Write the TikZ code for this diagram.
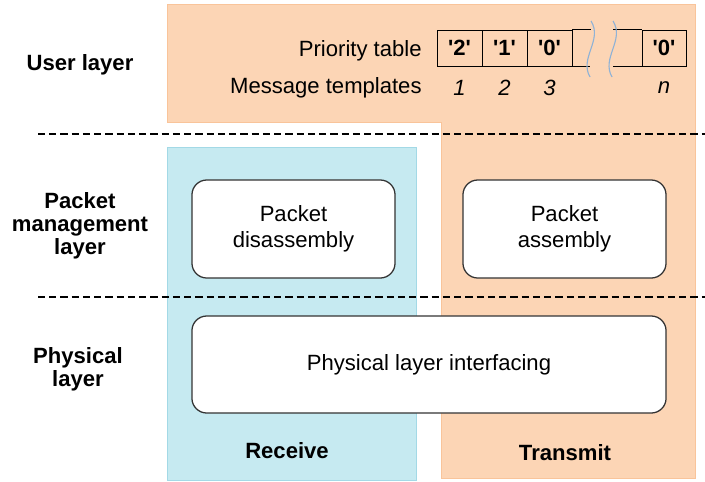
\documentclass[tikz,border=0pt]{standalone}
\usepackage{fontspec}
\setmainfont{Liberation Sans}
\usetikzlibrary{positioning}
\definecolor{txfill}{HTML}{FCD5B5}
\definecolor{txline}{HTML}{F9C49A}
\definecolor{rxfill}{HTML}{C6EAF1}
\definecolor{rxline}{HTML}{A3D9E6}
\definecolor{wavecol}{HTML}{8FB2D6}
\begin{document}
\begin{tikzpicture}[
    x=0.025cm, y=-0.025cm,
    every node/.style={font=\fontsize{15.7}{18.5}\selectfont},
    layer/.style={font=\fontsize{15.7}{16.5}\selectfont\bfseries, align=center},
    block/.style={rectangle, draw=black!80, line width=0.9pt, fill=white, rounded corners=0.37cm, align=center, minimum height=2.45cm},
    cell/.style={rectangle, draw, line width=0.6pt, minimum width=1.125cm, minimum height=0.9cm, inner sep=0pt, font=\fontsize{15.7}{18.5}\selectfont\bfseries},
    num/.style={font=\fontsize{15.7}{18.5}\selectfont\itshape},
    sep/.style={line width=0.8pt, dash pattern=on 5pt off 3pt},
    wave/.style={wavecol, line width=0.8pt}
]
\useasboundingbox (0,0) rectangle (705,481);
\filldraw[fill=txfill, draw=txline] (167,4) -- (695,4) -- (695,478) -- (441,478) -- (441,122) -- (167,122) -- cycle;
\filldraw[fill=rxfill, draw=rxline] (167,147) rectangle (416,480);
\draw[sep] (38,134) -- (705,134);
\draw[sep] (38,297) -- (705,297);

\node[layer] (user) at (80,65) {User layer};
\node[layer] (pm) at (80,226) {Packet\\management\\layer};
\node[layer] (phy) at (78,369) {Physical\\layer};

\foreach \v [count=\i] in {2,1,0}
    \node[cell] (c\i) at ({459.5+45*(\i-1)}, 48) {\textquotesingle\v\textquotesingle};
\node[cell, minimum width=1.1cm] (cn) at (664,48) {\textquotesingle0\textquotesingle};
\draw[line width=0.6pt] (c3.north east) -- ++(19,0);
\draw[line width=0.6pt] (c3.south east) -- ++(18,0);
\draw[line width=0.6pt] (cn.north west) -- ++(-29,0);
\draw[line width=0.6pt] (cn.south west) -- ++(-29,0);
\draw[wave] (591,21) .. controls (603,40) and (579,58) .. (590,77);
\draw[wave] (613,21) .. controls (625,40) and (601,58) .. (612,77);

\coordinate (numrow) at (0,88);
\foreach \i in {1,2,3}
    \node[num] at (c\i |- numrow) {\i};
\node[num] at (cn |- numrow) {n};
\node[left=0.25cm of c1, yshift=-2pt] (ptab) {Priority table};
\node[anchor=east] (msg) at (ptab.east |- numrow) {Message templates};

\node[block, minimum width=5.075cm] (disasm) at (293.5,229) {Packet\\disassembly};
\node[block, minimum width=5.075cm] (asm) at (564.5,229) {Packet\\assembly};
\node[block, minimum width=11.85cm, minimum height=2.425cm] (phyif) at (429,364.5) {Physical layer interfacing};

\node[layer] (rx) at (287,451) {Receive};
\node[layer] (tx) at (565,453) {Transmit};
\end{tikzpicture}
\end{document}
